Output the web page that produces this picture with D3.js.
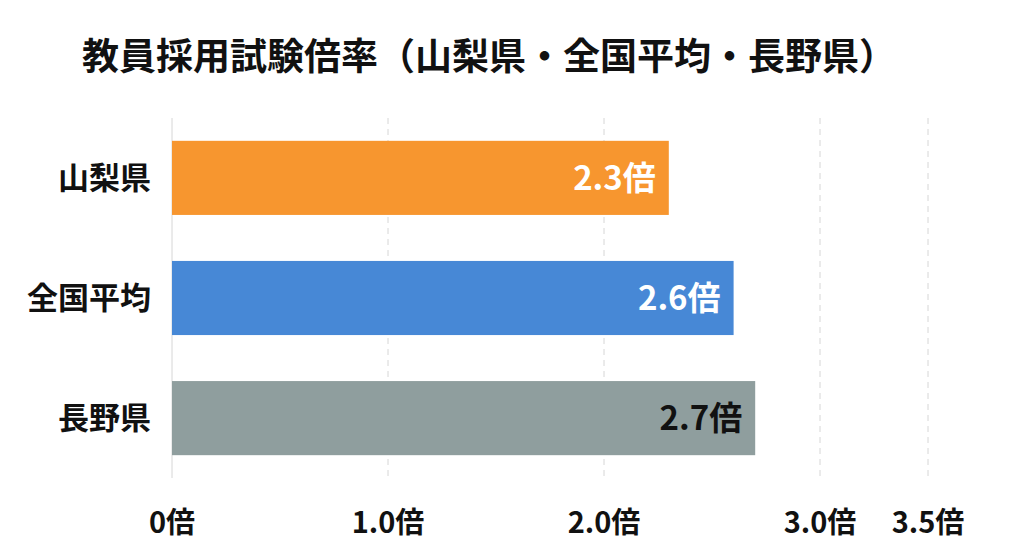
<!DOCTYPE html>
<html><head><meta charset="utf-8">
<script src="https://cdn.jsdelivr.net/npm/d3@7"></script>
<style>body{margin:0;background:#fff;}</style>
</head><body>
<svg id="chart" width="1024" height="559"></svg>
<script>
const categories = ["山梨県", "全国平均", "長野県"];
const values = [2.3, 2.6, 2.7];
const colors = ["#f7962f", "#4788d6", "#8f9e9e"];
const labelColors = ["#fff", "#fff", "#111"];
const tickValues = [0, 1, 2, 3, 3.5];
const tickLabels = ["0倍", "1.0倍", "2.0倍", "3.0倍", "3.5倍"];

const svg = d3.select("#chart");
const font = "'Liberation Sans Narrow','Noto Sans CJK JP',sans-serif";
const x = d3.scaleLinear().domain([0, 3.6]).range([172, 172 + 3.6 * 216]);
const y = d3.scaleBand().domain(categories).range([118, 478]).paddingInner(0.383).paddingOuter(0.19);

svg.append("text").attr("x", 82).attr("y", 70)
  .attr("font-family", "'Noto Sans CJK JP',sans-serif").attr("font-weight", "bold")
  .attr("font-size", 37).attr("fill", "#111")
  .text("教員採用試験倍率（山梨県・全国平均・長野県）");

// grid lines
svg.selectAll(".grid").data(tickValues).join("line")
  .attr("x1", d => x(d)).attr("x2", d => x(d))
  .attr("y1", 118).attr("y2", 478)
  .attr("stroke", "#d6d6d6").attr("stroke-width", 1)
  .attr("stroke-dasharray", d => d === 0 ? null : "6,5");

svg.selectAll(".bar").data(values).join("rect")
  .attr("x", x(0)).attr("y", (d, i) => y(categories[i]))
  .attr("width", d => x(d) - x(0)).attr("height", y.bandwidth())
  .attr("fill", (d, i) => colors[i]);

svg.selectAll(".val").data(values).join("text")
  .attr("x", d => x(d) - 13).attr("y", (d, i) => y(categories[i]) + y.bandwidth() / 2 + 12)
  .attr("text-anchor", "end").attr("font-family", font).attr("font-weight", "bold")
  .attr("font-size", 33).attr("fill", (d, i) => labelColors[i])
  .text(d => d.toFixed(1) + "倍");

svg.selectAll(".cat").data(categories).join("text")
  .attr("x", 151).attr("y", d => y(d) + y.bandwidth() / 2 + 11)
  .attr("text-anchor", "end").attr("font-family", "'Noto Sans CJK JP',sans-serif")
  .attr("font-weight", "bold").attr("font-size", 31).attr("fill", "#111")
  .text(d => d);

svg.selectAll(".tick").data(tickValues).join("text")
  .attr("x", d => x(d)).attr("y", 533)
  .attr("text-anchor", "middle").attr("font-family", font).attr("font-weight", "bold")
  .attr("font-size", 29).attr("fill", "#111")
  .text((d, i) => tickLabels[i]);
</script>
</body></html>
